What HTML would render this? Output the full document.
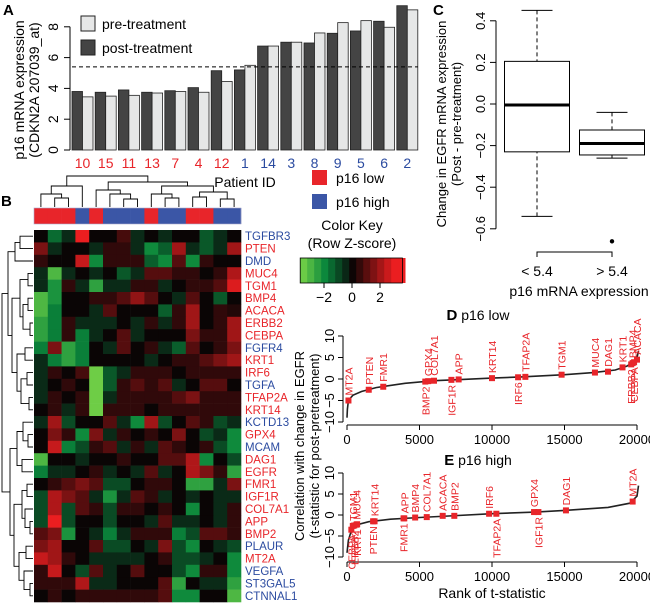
<!DOCTYPE html>
<html><head><meta charset="utf-8"><style>
html,body{margin:0;padding:0;background:#fff;}
svg{display:block;font-family:"Liberation Sans",Arial,sans-serif;}
</style></head><body>
<svg id="fig" width="650" height="603" viewBox="0 0 650 603" xmlns="http://www.w3.org/2000/svg"></svg>
<script>
// ---------- Panel A data ----------
const patientIds=["10","15","11","13","7","4","12","1","14","3","8","9","5","6","2"];
const patientGroup=["low","low","low","low","low","low","low","high","high","high","high","high","high","high","high"];
const postValues=[3.8,3.75,3.9,3.75,3.85,4.05,5.15,5.2,6.75,7.0,6.95,7.58,7.73,8.36,9.37];
const preValues=[3.45,3.5,3.55,3.7,3.8,3.75,4.45,5.5,6.75,7.0,7.6,8.27,8.4,7.97,9.1];
const aTicks=[0,2,4,6,8];
const threshold=5.4;
// ---------- Panel B data ----------
const geneNames=["TGFBR3","PTEN","DMD","MUC4","TGM1","BMP4","ACACA","ERBB2","CEBPA","FGFR4","KRT1","IRF6","TGFA","TFAP2A","KRT14","KCTD13","GPX4","MCAM","DAG1","EGFR","FMR1","IGF1R","COL7A1","APP","BMP2","PLAUR","MT2A","VEGFA","ST3GAL5","CTNNAL1"];
const geneGroup=["high","low","high","low","low","low","low","low","low","high","low","low","high","low","low","high","low","high","low","low","low","low","low","low","low","high","low","high","high","high"];
const colGroup=["low","low","low","high","low","high","high","high","low","high","high","low","low","high","high"];
const zScores=[
[0,-1.5,-0.5,3,0,0,0.8,-0.5,0,-0.5,0,0,-1.2,-0.5,0],
[1.5,-0.5,0,0,-0.5,0.5,0.5,-0.5,-2,-1.3,2,-0.5,-1.2,-0.5,2],
[0.5,0,0,2.5,-2,0.5,0.5,0.5,-1.3,-2,1,-2,0.5,0,0],
[-0.5,-3,-0.5,0,-0.5,0,-1.2,-0.5,1,1,0.5,0.5,0,0.5,2.2],
[-0.5,-2.2,0.5,-0.5,-2.5,-0.5,-0.5,0.5,0.5,-0.5,0,0.5,0.5,1,2.8],
[-3,-2.2,0,0,0.5,0.5,1,1.8,1,0,-0.5,1,0,-1.2,0],
[-3,-1.8,0,0,-0.5,1,0,0,0,-1.3,0.5,2,0,0.5,0.3],
[-2.5,-1.8,0.5,-0.5,-0.5,-0.5,0,-0.5,0.5,-0.5,0.5,2,0,0.5,2],
[-2.5,-1.8,0.5,-1.8,-0.5,0,1,-0.5,0,0,0,1.5,0.5,0.5,2],
[-1.8,1.5,-2.5,-1.8,0,-0.5,1,0,0.5,-0.5,-1.3,1,0,0.5,1.5],
[-0.5,-1.8,-2.5,-1.8,0,0,0,0,-0.5,0,0.5,0.5,1,1.5,2],
[-0.5,0.5,0,0.8,-3.5,-1.2,-0.5,0.5,0.5,0.5,0,0.5,0.5,0.5,0.5],
[-0.5,0,0.5,0,-3.5,-1.2,0.5,1,0.5,1,-0.5,0,1,1,0],
[-0.5,0.5,0,0.5,-3.5,-0.5,0.5,0.5,0.5,0.5,1,1.5,0.5,0.5,0.5],
[0,0.5,-0.5,0.5,-3.5,0.5,0.5,0.5,0,0.5,0.5,0.5,0.5,0.5,0.5],
[-0.5,2,-1,0,0,1,-0.5,-2,2,-1,0,1,0.5,-1,-0.5],
[0,1.5,0.5,-2,1.5,-0.5,0.5,0,0.5,0,1.5,0,-1,-0.5,-2],
[0,2.5,-1.8,-1,0.5,1,-0.5,0.5,-0.5,1,0.5,0,0.5,-1,-2],
[-3,0,0,-0.5,0,0,0.5,0,0,1,1,2.2,-2,0,-1],
[-1.8,-0.5,-0.5,0,0.5,-0.5,0,-0.5,1,-0.5,0,2.2,1.5,0.5,-2.5],
[0,0.5,1,1.5,1,-1,-1,0,0.5,0.5,0,-2.5,-2.5,-0.5,1.5],
[-1,2.2,1.5,1,-0.5,-2.2,-0.5,1,0.5,-0.5,0,-0.5,0,-0.5,-0.5],
[-1,2.2,-1,1,0.5,-1,0.5,0.5,0,0.5,0,-2,0,-0.5,0.5],
[-1,3,-1,0,0,-1,0,0,-0.5,1,-0.5,-0.5,0,-0.5,0.5],
[1,1.5,-2.2,0,-0.5,-1.8,-0.5,0.5,0.5,0.5,-1.8,-1,1,1,0.5],
[1.5,2,0,0,1,-1,-1,0,-0.5,1.5,-1,-2,0,-0.5,-1],
[2.5,2,0.5,0,-0.5,-0.5,-0.5,-0.5,0,0.5,-1,-1,-0.5,0,-2],
[0.5,2.5,0,-1,1,-0.5,0,1,0,0,-1,-2,0.5,0.5,-2],
[0.5,0.5,0.5,2.2,-0.5,-0.5,0,0,0,1,-2.5,0,-0.5,-0.5,-2.5],
[0,0.5,0,0.5,0.5,0.5,0.5,0.5,0.5,1,-2,-2,0,0,-3]];
const keyTicks=[-2,0,2];
// ---------- Panel C data ----------
const boxGroups=["< 5.4","> 5.4"];
const boxLowWhisker=[-0.54,-0.26];
const boxQ1=[-0.23,-0.245];
const boxMedian=[-0.005,-0.19];
const boxQ3=[0.205,-0.125];
const boxHighWhisker=[0.45,-0.04];
const boxOutliers=[[],[-0.66]];
const cTicks=[0.4,0.2,0.0,-0.2,-0.4,-0.6];
// ---------- Panel D/E data ----------
const dCurveRank=[0,30,100,400,1000,2000,4000,6000,8000,10000,12000,15000,17000,18500,19300,19800,20000,20100];
const dCurveT=[-9,-7,-5,-3.8,-2.9,-2,-1,-0.4,-0.1,0.2,0.5,1,1.5,2.1,3,4,5,6.5];
const dGenes=["MT2A","PTEN","FMR1","BMP2","GPX4","COL7A1","IGF1R","APP","KRT14","IRF6","TFAP2A","TGM1","MUC4","DAG1","KRT1","ERBB2","BMP4","CEBPA","ACACA"];
const dRank=[100,1500,2500,5400,5600,6000,7200,7700,10000,11800,12300,14800,17100,18000,19000,19600,19700,19800,20000];
const dT=[-5,-2.5,-1.8,-0.6,-0.5,-0.4,-0.2,-0.1,0.2,0.4,0.5,1,1.5,1.7,2.7,3.4,3.7,3.9,4.5];
const dSide=["up","up","up","down","up","up","down","up","up","down","up","up","up","up","up","down","up","down","up"];
const eCurveRank=[0,100,300,700,1500,3000,5000,7000,10000,13000,15000,18000,19500,20000,20100];
const eCurveT=[-9,-6,-3.7,-2.3,-1.6,-1,-0.6,-0.25,0.3,0.7,1.1,1.8,2.8,4.5,7];
const eGenes=["CEBPA","TGM1","ERBB2","MUC4","KRT1","PTEN","KRT14","FMR1","APP","BMP4","COL7A1","ACACA","BMP2","IRF6","TFAP2A","GPX4","IGF1R","DAG1","MT2A"];
const eRank=[300,400,500,650,700,1800,1900,3900,3950,4700,5500,6600,7400,9800,10300,12900,13200,15100,19700];
const eT=[-3.5,-2.6,-2.5,-2.3,-2.2,-1.5,-1.5,-0.8,-0.8,-0.6,-0.5,-0.2,-0.2,0.3,0.3,0.7,0.7,1.1,3.2];
const eSide=["down","up","down","up","down","down","up","down","up","up","up","up","up","up","down","up","down","up","up"];
const rankTicks=[0,5000,10000,15000,20000];
const tTicks=[-10,-5,0,5,10];

const NS="http://www.w3.org/2000/svg";
const svg=document.getElementById("fig");
function el(tag,attrs,parent){const e=document.createElementNS(NS,tag);for(const k in attrs)e.setAttribute(k,attrs[k]);(parent||svg).appendChild(e);return e;}
function txt(s,attrs,parent){const e=el("text",attrs,parent);e.textContent=s;return e;}
const RED="#e8252a",BLUE="#2b4ba0";

// ===== Panel A =====
const gA=el("g",{});


const ay=v=>150-v*15.4;
const pairX=i=>72+23.2*i;
txt("A",{x:3,y:15,"font-size":15,"font-weight":"bold"},gA);
el("line",{x1:70,y1:ay(0),x2:70,y2:ay(8),stroke:"#000"},gA);
aTicks.forEach(t=>{
  el("line",{x1:64,y1:ay(t),x2:70,y2:ay(t),stroke:"#000"},gA);
  const l=txt(String(t),{x:58,y:ay(t),"font-size":14,"text-anchor":"middle",transform:`rotate(-90 58 ${ay(t)})`},gA);
  
  
});
postValues.forEach((v,i)=>{
  const x=pairX(i);
  const b=el("rect",{x:x,y:ay(v),width:10.5,height:ay(0)-ay(v),fill:"#444",stroke:"#222","stroke-width":0.8},gA);
  
  
  const b2=el("rect",{x:x+10.5,y:ay(preValues[i]),width:10.5,height:ay(0)-ay(preValues[i]),fill:"#e6e7e7",stroke:"#222","stroke-width":0.8},gA);
  
  
  const l=txt(patientIds[i],{x:x+10.5,y:168,"font-size":14,"text-anchor":"middle",fill:patientGroup[i]==="low"?RED:BLUE},gA);
  
  
});
el("line",{x1:72,y1:ay(threshold),x2:418,y2:ay(threshold),stroke:"#000","stroke-dasharray":"4,3"},gA);
txt("Patient ID",{x:245,y:187,"font-size":14,"text-anchor":"middle"},gA);
const ylA=txt("",{x:0,y:0,"font-size":14,"text-anchor":"middle",transform:"translate(24 90) rotate(-90)"},gA);

ylA.innerHTML='<tspan x="0" dy="0">p16 mRNA expression</tspan><tspan x="0" dy="15">(CDKN2A 207039_at)</tspan>';
el("rect",{x:81,y:16,width:14,height:15,fill:"#e6e7e7",stroke:"#222"},gA);
txt("pre-treatment",{x:102,y:29,"font-size":14},gA);
el("rect",{x:81,y:40,width:14,height:15,fill:"#444",stroke:"#222"},gA);
txt("post-treatment",{x:102,y:53,"font-size":14},gA);

// ===== Panel B =====
const gB=el("g",{});


txt("B",{x:1,y:206,"font-size":15,"font-weight":"bold"},gB);
const hx0=34,cw=13.8,hy0=230,rh=12.4;
function zColor(z){
  if(z>=0){const t=Math.min(z/3,1);return `rgb(${Math.round(10+225*t)},${Math.round(5+25*t)},${Math.round(5+27*t)})`;}
  const t=Math.min(-z/3.5,1);
  if(t<0.55){const u=t/0.55;return `rgb(${Math.round(10+0*u)},${Math.round(10+125*u)},${Math.round(10+50*u)})`;}
  const u=(t-0.55)/0.45;return `rgb(${Math.round(10+100*u)},${Math.round(135+70*u)},${Math.round(60+10*u)})`;
}
zScores.forEach((row,r)=>{row.forEach((z,c)=>{
  const cell=el("rect",{x:hx0+c*cw,y:hy0+r*rh,width:cw+0.3,height:rh+0.3,fill:zColor(z)},gB);
  
  
});
  const l=txt(geneNames[r],{x:245,y:hy0+r*rh+rh/2+4,"font-size":11.5,fill:geneGroup[r]==="low"?RED:BLUE},gB);
  
  
});
colGroup.forEach((g,c)=>{
  const s=el("rect",{x:hx0+c*cw,y:208,width:cw+0.3,height:16,fill:g==="low"?"#e8252a":"#3b56a6"},gB);
  
  
});
el("rect",{x:hx0,y:208,width:15*cw,height:16,fill:"none",stroke:"#aac","stroke-width":0.6},gB);
function drawTree(node,pos,coord,horiz,g){
  if(typeof node==="number")return {p:pos(node),h:coord.leaf};
  const a=drawTree(node[1],pos,coord,horiz,g),b=drawTree(node[2],pos,coord,horiz,g);
  const h=node[0];
  let d;
  if(horiz)d=`M${a.h},${a.p}H${h}V${b.p}H${b.h}`;else d=`M${a.p},${a.h}V${h}H${b.p}V${b.h}`;
  el("path",{d:d,fill:"none",stroke:"#000","stroke-width":0.9},g);
  return {p:(a.p+b.p)/2,h:h};
}
const colTree=[176,[186,[194,0,[198,1,2]],3],[182,[190,4,[194,5,[199,6,7]]],[186,[194,8,[198,9,10]],[192,[197,11,12],[199,13,14]]]]];
const gCD=el("g",{},gB);
drawTree(colTree,i=>hx0+cw*(i+0.5),{leaf:207},false,gCD);
const rowTree=[2,[8,[15,[20,0,1],2],[12,[20,[28,3,4],[23,[28,5,6],[30,7,8]]],[17,[25,9,10],[21,[27,11,12],[29,13,14]]]]],[10,[17,[23,15,[28,16,17]],[22,18,19]],[14,[22,[27,20,21],[25,22,[30,23,24]]],[19,[26,25,26],[24,27,[30,28,29]]]]]];
const gRD=el("g",{},gB);
drawTree(rowTree,i=>hy0+rh*(i+0.5),{leaf:33},true,gRD);
el("rect",{x:312,y:170,width:15,height:15,fill:"#e8252a"},gB);
txt("p16 low",{x:336,y:183,"font-size":14},gB);
el("rect",{x:312,y:194,width:15,height:15,fill:"#3b56a6"},gB);
txt("p16 high",{x:336,y:207,"font-size":14},gB);
const gK=el("g",{},gB);
txt("Color Key",{x:352,y:230,"font-size":14,"text-anchor":"middle"},gK);
txt("(Row Z-score)",{x:352,y:248,"font-size":14,"text-anchor":"middle"},gK);
const kx=z=>352+z*14;
for(let z=-3.7;z<3.6;z+=0.5){el("rect",{x:kx(z),y:258,width:7.3,height:25,fill:zColor(z+0.25)},gK);}
el("rect",{x:kx(-3.7),y:258,width:kx(3.6)-kx(-3.7),height:25,fill:"none",stroke:"#000","stroke-width":0.8},gK);
keyTicks.forEach(t=>{el("line",{x1:kx(t),y1:283,x2:kx(t),y2:288,stroke:"#000"},gK);txt(t<0?"−"+(-t):String(t),{x:kx(t),y:302,"font-size":14,"text-anchor":"middle"},gK);});

// ===== Panel C =====
const gC=el("g",{});


const cy=v=>104-v*208;
const cx=[537,612];
txt("C",{x:433,y:15,"font-size":15,"font-weight":"bold"},gC);
el("line",{x1:496,y1:cy(0.4),x2:496,y2:cy(-0.6),stroke:"#000"},gC);
cTicks.forEach(t=>{el("line",{x1:490,y1:cy(t),x2:496,y2:cy(t),stroke:"#000"},gC);
  const s=(t<0?"−":"")+Math.abs(t).toFixed(1);
  const l=txt(s,{x:485,y:cy(t),"font-size":13,"text-anchor":"middle",transform:`rotate(-90 485 ${cy(t)})`},gC);
  });
boxGroups.forEach((g,i)=>{
  const x=cx[i],hw=32.5,cap=15.5;
  const bx=el("g",{},gC);
  el("line",{x1:x,y1:cy(boxHighWhisker[i]),x2:x,y2:cy(boxQ3[i]),stroke:"#000","stroke-dasharray":"4,3"},bx);
  el("line",{x1:x,y1:cy(boxLowWhisker[i]),x2:x,y2:cy(boxQ1[i]),stroke:"#000","stroke-dasharray":"4,3"},bx);
  el("line",{x1:x-cap,y1:cy(boxHighWhisker[i]),x2:x+cap,y2:cy(boxHighWhisker[i]),stroke:"#000"},bx);
  el("line",{x1:x-cap,y1:cy(boxLowWhisker[i]),x2:x+cap,y2:cy(boxLowWhisker[i]),stroke:"#000"},bx);
  el("rect",{x:x-hw,y:cy(boxQ3[i]),width:2*hw,height:cy(boxQ1[i])-cy(boxQ3[i]),fill:"#fff",stroke:"#000"},bx);
  el("line",{x1:x-hw,y1:cy(boxMedian[i]),x2:x+hw,y2:cy(boxMedian[i]),stroke:"#000","stroke-width":3},bx);
  boxOutliers[i].forEach(o=>el("circle",{cx:x,cy:cy(o),r:2.2,fill:"#000"},bx));
  txt(g,{x:x,y:276,"font-size":14,"text-anchor":"middle"},gC);
});
el("path",{d:`M${cx[0]},257V252H${cx[1]}V257`,fill:"none",stroke:"#000"},gC);
txt("p16 mRNA expression",{x:579,y:296,"font-size":14,"text-anchor":"middle"},gC);
const ylC=txt("",{x:0,y:0,"font-size":13,"text-anchor":"middle",transform:"translate(446 124) rotate(-90)"},gC);

ylC.innerHTML='<tspan x="0" dy="0">Change in EGFR mRNA expression</tspan><tspan x="0" dy="15">(Post - pre-treatment)</tspan>';

// ===== Panels D/E =====
function rankPanel(name,letter,title,titleY,y0,scale,axisY,curveR,curveT,genes,ranks,ts,sides){
  const g=el("g",{});
  
  
  const px=r=>347+r*0.0145, py=t=>y0-t*scale;
  const tt=txt("",{x:478,y:titleY,"font-size":14,"text-anchor":"middle"},g);
  tt.innerHTML=`<tspan font-weight="bold" font-size="15">${letter}</tspan> ${title}`;
  el("line",{x1:343,y1:py(10),x2:343,y2:py(-10),stroke:"#000"},g);
  tTicks.forEach(t=>{el("line",{x1:338,y1:py(t),x2:343,y2:py(t),stroke:"#000"},g);
    const s=(t<0?"−":"")+Math.abs(t);
    txt(s,{x:334,y:py(t),"font-size":13,"text-anchor":"middle",transform:`rotate(-90 334 ${py(t)})`},g);});
  el("line",{x1:px(0),y1:axisY,x2:px(20000),y2:axisY,stroke:"#000"},g);
  rankTicks.forEach(r=>{el("line",{x1:px(r),y1:axisY,x2:px(r),y2:axisY+5,stroke:"#000"},g);
    txt(String(r),{x:px(r),y:axisY+19,"font-size":13,"text-anchor":"middle"},g);});
  const d=curveR.map((r,i)=>(i?"L":"M")+px(r).toFixed(1)+","+py(curveT[i]).toFixed(1)).join("");
  const c=el("path",{d:d,fill:"none",stroke:"#222","stroke-width":1.6},g);
  
  
  genes.forEach((gn,i)=>{
    const x=px(ranks[i]),y=py(ts[i]);
    const m=el("rect",{x:x-3,y:y-3,width:6,height:6,fill:"#e8252a"},g);
    
    
    const up=sides[i]==="up";
    const ly=up?y-5:y+5;
    const l=txt(gn,{x:x+4,y:ly,"font-size":10.5,fill:"#e8252a","text-anchor":up?"start":"end",transform:`rotate(-90 ${x+4} ${ly})`},g);
    
    
  });
}
rankPanel("panel-d-p16-low","D","p16 low",320,379,4.3,425,dCurveRank,dCurveT,dGenes,dRank,dT,dSide);
rankPanel("panel-e-p16-high","E","p16 high",465,515,4.2,562,eCurveRank,eCurveT,eGenes,eRank,eT,eSide);
txt("Rank of t-statistic",{x:492,y:598,"font-size":14,"text-anchor":"middle"});
const ylD=txt("",{x:0,y:0,"font-size":13,"text-anchor":"middle",transform:"translate(304 446) rotate(-90)"});

ylD.innerHTML='<tspan x="0" dy="0">Correlation with change in EGFR</tspan><tspan x="0" dy="15">(t-statistic for post-pretreatment)</tspan>';
</script>
</body></html>
